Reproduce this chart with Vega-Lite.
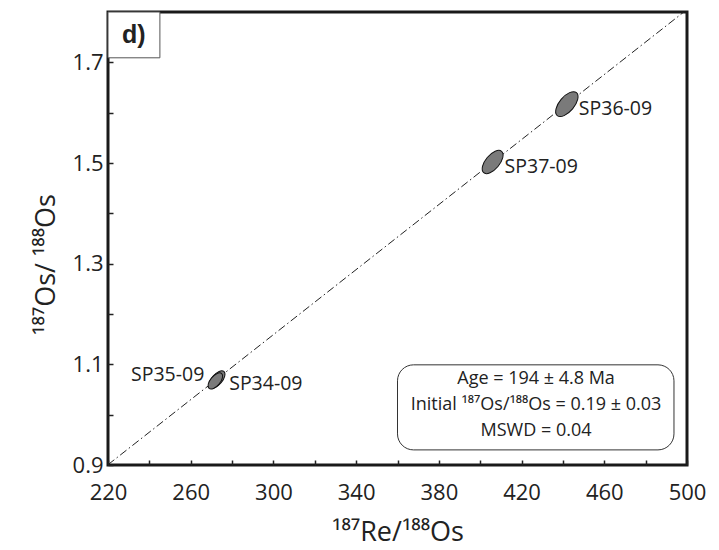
{
  "$schema": "https://vega.github.io/schema/vega-lite/v6.json",
  "autosize": "none",
  "width": 579,
  "height": 453,
  "padding": {"left": 108, "top": 12, "right": 32, "bottom": 85},
  "background": "white",
  "config": {
    "view": {"stroke": "#1a1a1a", "strokeWidth": 3},
    "font": "Open Sans",
    "axis": {"grid": false, "domain": false, "labelFlush": false, "labelFont": "Open Sans", "titleFont": "Open Sans", "labelColor": "#222", "titleColor": "#222", "titleFontWeight": "normal", "tickColor": "#222"}
  },
  "datasets": {
    "samples": [
      {"sample": "SP36-09", "re_os": 441.9, "os_os": 1.617, "re_err": 4.6},
      {"sample": "SP37-09", "re_os": 406.0, "os_os": 1.502, "re_err": 4.3},
      {"sample": "SP34-09", "re_os": 272.8, "os_os": 1.070, "re_err": 3.2},
      {"sample": "SP35-09", "re_os": 271.9, "os_os": 1.067, "re_err": 3.0}
    ],
    "isochron": [
      {"re_os": 220, "os_os": 0.9006},
      {"re_os": 500, "os_os": 1.805}
    ],
    "stats": [
      {"line": 1, "text": "Age = 194 ± 4.8 Ma", "re_os": 427, "os_os": 1.071},
      {"line": 2, "text": "Initial ¹⁸⁷Os/¹⁸⁸Os = 0.19 ± 0.03", "re_os": 427, "os_os": 1.019},
      {"line": 3, "text": "MSWD = 0.04", "re_os": 427, "os_os": 0.967}
    ],
    "statbox": [
      {"x1": 360, "x2": 493.7, "y1": 1.099, "y2": 0.930}
    ],
    "panel": [
      {"label": "d)", "x1": 220, "x2": 245.1, "y1": 1.8, "y2": 1.709, "xc": 232.5, "yc": 1.754}
    ]
  },
  "layer": [
    {
      "data": {"name": "isochron"},
      "mark": {"type": "line", "color": "#222", "strokeWidth": 1, "strokeDash": [8, 3, 1.5, 3], "clip": true},
      "encoding": {
        "x": {
          "field": "re_os", "type": "quantitative",
          "scale": {"domain": [220, 500], "nice": false, "zero": false},
          "axis": {
            "values": [220, 240, 260, 280, 300, 320, 340, 360, 380, 400, 420, 440, 460, 480, 500],
            "labelExpr": "(datum.value - 220) % 40 === 0 ? datum.label : ''",
            "tickSize": -5, "tickWidth": 1.5, "labelPadding": 22, "labelFontSize": 22,
            "title": "¹⁸⁷Re/¹⁸⁸Os", "titleFontSize": 27, "titlePadding": 16
          }
        },
        "y": {
          "field": "os_os", "type": "quantitative",
          "scale": {"domain": [0.9, 1.8], "nice": false, "zero": false},
          "axis": {
            "values": [0.9, 1.0, 1.1, 1.2, 1.3, 1.4, 1.5, 1.6, 1.7, 1.8],
            "labelExpr": "round(datum.value * 10) % 2 === 1 ? datum.label : ''",
            "tickSize": -5, "tickWidth": 1.5, "labelPadding": 10, "labelFontSize": 22,
            "title": "¹⁸⁷Os/ ¹⁸⁸Os", "titleFontSize": 27, "titlePadding": 12, "titleY": 252
          }
        }
      }
    },
    {
      "data": {"name": "samples"},
      "mark": {"type": "point", "shape": "M -1 0 A 1 0.5 0 1 1 1 0 A 1 0.5 0 1 1 -1 0 Z", "filled": true, "fill": "#7a7a7a", "stroke": "#111", "strokeWidth": 1, "opacity": 1, "angle": 310},
      "encoding": {
        "x": {"field": "re_os", "type": "quantitative"},
        "y": {"field": "os_os", "type": "quantitative"},
        "size": {"field": "re_err", "type": "quantitative", "scale": {"type": "pow", "exponent": 2, "domain": [0, 5], "range": [0, 1056]}, "legend": null}
      }
    },
    {
      "data": {"name": "samples"},
      "transform": [{"filter": "datum.sample !== 'SP35-09'"}],
      "mark": {"type": "text", "align": "left", "baseline": "middle", "dx": 12, "dy": 5, "fontSize": 19.5, "color": "#222"},
      "encoding": {
        "x": {"field": "re_os", "type": "quantitative"},
        "y": {"field": "os_os", "type": "quantitative"},
        "text": {"field": "sample"}
      }
    },
    {
      "data": {"name": "samples"},
      "transform": [{"filter": "datum.sample === 'SP35-09'"}],
      "mark": {"type": "text", "align": "right", "baseline": "middle", "dx": -11, "dy": -6, "fontSize": 19.5, "color": "#222"},
      "encoding": {
        "x": {"field": "re_os", "type": "quantitative"},
        "y": {"field": "os_os", "type": "quantitative"},
        "text": {"field": "sample"}
      }
    },
    {
      "data": {"name": "statbox"},
      "mark": {"type": "rect", "fill": "white", "stroke": "#333", "strokeWidth": 1, "cornerRadius": 16},
      "encoding": {
        "x": {"field": "x1", "type": "quantitative"},
        "x2": {"field": "x2"},
        "y": {"field": "y1", "type": "quantitative"},
        "y2": {"field": "y2"}
      }
    },
    {
      "data": {"name": "stats"},
      "mark": {"type": "text", "align": "center", "baseline": "middle", "fontSize": 18, "color": "#222"},
      "encoding": {
        "x": {"field": "re_os", "type": "quantitative"},
        "y": {"field": "os_os", "type": "quantitative"},
        "text": {"field": "text"}
      }
    },
    {
      "data": {"name": "panel"},
      "mark": {"type": "rect", "fill": "white", "stroke": "#555", "strokeWidth": 1},
      "encoding": {
        "x": {"field": "x1", "type": "quantitative"},
        "x2": {"field": "x2"},
        "y": {"field": "y1", "type": "quantitative"},
        "y2": {"field": "y2"}
      }
    },
    {
      "data": {"name": "panel"},
      "mark": {"type": "text", "align": "center", "baseline": "middle", "font": "Liberation Sans", "fontWeight": "bold", "fontSize": 25, "color": "#222"},
      "encoding": {
        "x": {"field": "xc", "type": "quantitative"},
        "y": {"field": "yc", "type": "quantitative"},
        "text": {"field": "label"}
      }
    }
  ]
}
